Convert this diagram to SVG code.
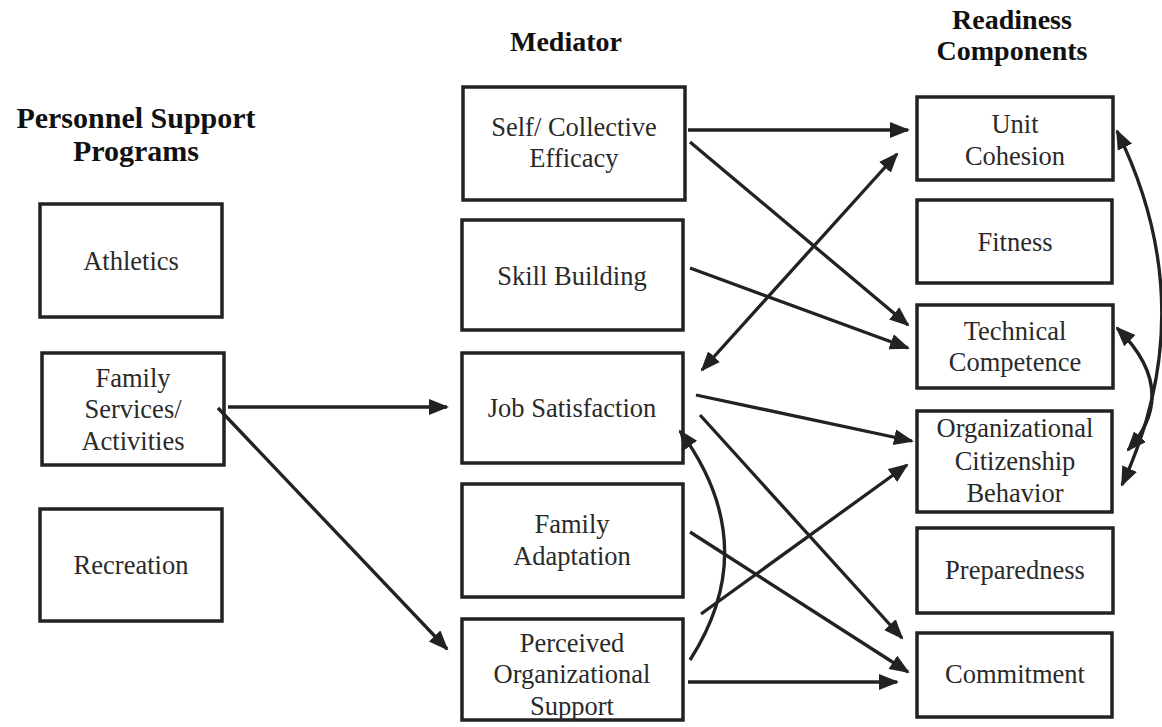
<svg xmlns="http://www.w3.org/2000/svg" width="1162" height="727" viewBox="0 0 1162 727">
<style>
.box{fill:#fff;stroke:#222;stroke-width:3.5}
.t{font-family:"Liberation Serif","Times New Roman",serif;font-size:26.5px;fill:#2a2a2a;text-anchor:middle}
.h{font-family:"Liberation Serif","Times New Roman",serif;font-weight:bold;font-size:28px;fill:#111;text-anchor:middle}
.c{fill:none;stroke:#222;stroke-width:3.3}
</style>
<defs>
<marker id="ah" markerUnits="userSpaceOnUse" markerWidth="22" markerHeight="18" refX="18" refY="8" orient="auto-start-reverse" viewBox="0 0 22 18">
<path d="M0,0 L20,8 L0,16 z" fill="#222"/>
</marker>
</defs>
<rect width="1162" height="727" fill="#fff"/>
<g id="headers">
<text class="h" x="136" y="128" style="font-size:30px">Personnel Support</text>
<text class="h" x="136" y="161" style="font-size:30px">Programs</text>
<text class="h" x="566" y="51">Mediator</text>
<text class="h" x="1012" y="29">Readiness</text>
<text class="h" x="1012" y="60">Components</text>
</g>
<g id="athletics"><rect class="box" x="40" y="204" width="182" height="113"/><text class="t" x="131" y="270">Athletics</text></g>
<g id="family-services"><rect class="box" x="42" y="353" width="182" height="112"/><text class="t" x="133" y="387">Family</text><text class="t" x="133" y="418">Services/</text><text class="t" x="133" y="450">Activities</text></g>
<g id="recreation"><rect class="box" x="40" y="509" width="182" height="112"/><text class="t" x="131" y="574">Recreation</text></g>
<g id="self-efficacy"><rect class="box" x="463" y="87" width="222" height="113"/><text class="t" x="574" y="136">Self/ Collective</text><text class="t" x="574" y="167">Efficacy</text></g>
<g id="skill-building"><rect class="box" x="462" y="220" width="221" height="110"/><text class="t" x="572" y="285">Skill Building</text></g>
<g id="job-satisfaction"><rect class="box" x="462" y="353" width="221" height="110"/><text class="t" x="572" y="417">Job Satisfaction</text></g>
<g id="family-adaptation"><rect class="box" x="462" y="484" width="221" height="113"/><text class="t" x="572" y="533">Family</text><text class="t" x="572" y="565">Adaptation</text></g>
<g id="pos"><rect class="box" x="462" y="619" width="221" height="101"/><text class="t" x="572" y="652">Perceived</text><text class="t" x="572" y="683">Organizational</text><text class="t" x="572" y="715">Support</text></g>
<g id="unit-cohesion"><rect class="box" x="917" y="97" width="196" height="83"/><text class="t" x="1015" y="133">Unit</text><text class="t" x="1015" y="165">Cohesion</text></g>
<g id="fitness"><rect class="box" x="917" y="200" width="195" height="83"/><text class="t" x="1015" y="251">Fitness</text></g>
<g id="technical-competence"><rect class="box" x="917" y="305" width="196" height="83"/><text class="t" x="1015" y="340">Technical</text><text class="t" x="1015" y="371">Competence</text></g>
<g id="ocb"><rect class="box" x="917" y="411" width="195" height="101"/><text class="t" x="1015" y="437">Organizational</text><text class="t" x="1015" y="470">Citizenship</text><text class="t" x="1015" y="502">Behavior</text></g>
<g id="preparedness"><rect class="box" x="917" y="528" width="196" height="85"/><text class="t" x="1015" y="579">Preparedness</text></g>
<g id="commitment"><rect class="box" x="917" y="633" width="195" height="84"/><text class="t" x="1015" y="683">Commitment</text></g>
<g id="connectors">
<path class="c" d="M688,130 L908,130" marker-end="url(#ah)"/>
<path class="c" d="M690,142 L908,325" marker-end="url(#ah)"/>
<path class="c" d="M690,268 L908,348" marker-end="url(#ah)"/>
<path class="c" d="M702,370 L897,154" marker-start="url(#ah)" marker-end="url(#ah)"/>
<path class="c" d="M696,395 L912,441" marker-end="url(#ah)"/>
<path class="c" d="M700,415 L902,638" marker-end="url(#ah)"/>
<path class="c" d="M690,532 L908,672" marker-end="url(#ah)"/>
<path class="c" d="M701,614 L907,465" marker-end="url(#ah)"/>
<path class="c" d="M688,682 L897,682" marker-end="url(#ah)"/>
<path class="c" d="M690,660 Q764,545 680,431" marker-end="url(#ah)"/>
<path class="c" d="M228,407 L447,407" marker-end="url(#ah)"/>
<path class="c" d="M218,408 L447,649" marker-end="url(#ah)"/>
<path class="c" d="M1117,131 Q1204,308 1122,485" marker-start="url(#ah)" marker-end="url(#ah)"/>
<path class="c" d="M1117,328 Q1181,391 1128,450" marker-start="url(#ah)" marker-end="url(#ah)"/>
</g>
</svg>
